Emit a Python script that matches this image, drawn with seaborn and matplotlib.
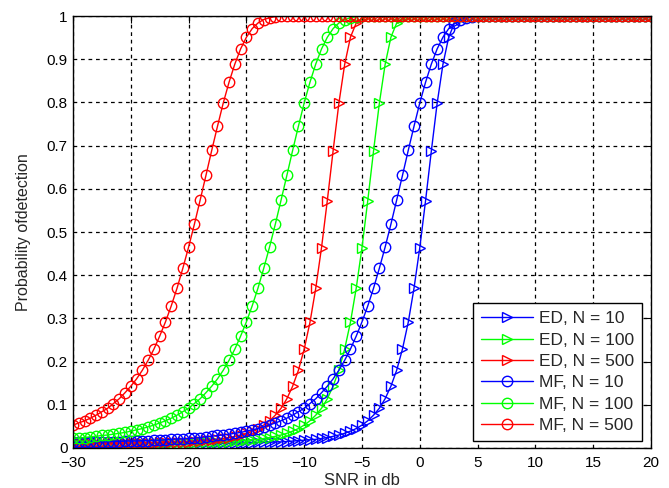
import numpy as np
import pandas as pd
import matplotlib
matplotlib.use('Agg')
import matplotlib.pyplot as plt
import seaborn as sns

# SNR grid in dB (-30 to 20, 0.5 dB steps)
snr_db = np.linspace(-30, 20, 101)

# energy detector curves
ed_n10 = [0.010, 0.010, 0.010, 0.010, 0.010, 0.010, 0.010, 0.010, 0.010, 0.010,
          0.010, 0.010, 0.010, 0.010, 0.010, 0.010, 0.010, 0.011, 0.011, 0.011,
          0.011, 0.011, 0.011, 0.011, 0.011, 0.011, 0.011, 0.011, 0.012, 0.012,
          0.012, 0.012, 0.013, 0.013, 0.013, 0.014, 0.014, 0.015, 0.016, 0.017,
          0.018, 0.019, 0.020, 0.022, 0.024, 0.027, 0.030, 0.034, 0.039, 0.045,
          0.053, 0.063, 0.076, 0.092, 0.114, 0.143, 0.180, 0.229, 0.291, 0.370,
          0.464, 0.573, 0.688, 0.798, 0.888, 0.951, 0.984, 0.996, 1.0, 1.0,
          1.0, 1.0, 1.0, 1.0, 1.0, 1.0, 1.0, 1.0, 1.0, 1.0,
          1.0, 1.0, 1.0, 1.0, 1.0, 1.0, 1.0, 1.0, 1.0, 1.0,
          1.0, 1.0, 1.0, 1.0, 1.0, 1.0, 1.0, 1.0, 1.0, 1.0, 1.0]
ed_n100 = [0.010, 0.010, 0.010, 0.010, 0.010, 0.010, 0.010, 0.011, 0.011, 0.011,
           0.011, 0.011, 0.011, 0.011, 0.011, 0.011, 0.011, 0.011, 0.012, 0.012,
           0.012, 0.012, 0.013, 0.013, 0.013, 0.014, 0.014, 0.015, 0.016, 0.017,
           0.018, 0.019, 0.020, 0.022, 0.024, 0.027, 0.030, 0.034, 0.039, 0.045,
           0.053, 0.063, 0.076, 0.092, 0.114, 0.143, 0.180, 0.229, 0.291, 0.370,
           0.464, 0.573, 0.688, 0.798, 0.888, 0.951, 0.984, 0.996, 1.0, 1.0,
           1.0, 1.0, 1.0, 1.0, 1.0, 1.0, 1.0, 1.0, 1.0, 1.0,
           1.0, 1.0, 1.0, 1.0, 1.0, 1.0, 1.0, 1.0, 1.0, 1.0,
           1.0, 1.0, 1.0, 1.0, 1.0, 1.0, 1.0, 1.0, 1.0, 1.0,
           1.0, 1.0, 1.0, 1.0, 1.0, 1.0, 1.0, 1.0, 1.0, 1.0, 1.0]
ed_n500 = [0.011, 0.011, 0.011, 0.011, 0.011, 0.011, 0.011, 0.011, 0.011, 0.011,
           0.011, 0.012, 0.012, 0.012, 0.012, 0.013, 0.013, 0.013, 0.014, 0.014,
           0.015, 0.016, 0.017, 0.018, 0.019, 0.020, 0.022, 0.024, 0.027, 0.030,
           0.034, 0.039, 0.045, 0.053, 0.063, 0.076, 0.092, 0.114, 0.143, 0.180,
           0.229, 0.291, 0.370, 0.464, 0.573, 0.688, 0.798, 0.888, 0.951, 0.984,
           0.996, 1.0, 1.0, 1.0, 1.0, 1.0, 1.0, 1.0, 1.0, 1.0,
           1.0, 1.0, 1.0, 1.0, 1.0, 1.0, 1.0, 1.0, 1.0, 1.0,
           1.0, 1.0, 1.0, 1.0, 1.0, 1.0, 1.0, 1.0, 1.0, 1.0,
           1.0, 1.0, 1.0, 1.0, 1.0, 1.0, 1.0, 1.0, 1.0, 1.0,
           1.0, 1.0, 1.0, 1.0, 1.0, 1.0, 1.0, 1.0, 1.0, 1.0, 1.0]

# matched filter curves
mf_n10 = [0.013, 0.013, 0.013, 0.014, 0.014, 0.014, 0.014, 0.015, 0.015, 0.016,
          0.016, 0.016, 0.017, 0.017, 0.018, 0.018, 0.019, 0.020, 0.021, 0.021,
          0.022, 0.023, 0.024, 0.026, 0.027, 0.029, 0.030, 0.032, 0.034, 0.036,
          0.039, 0.042, 0.045, 0.049, 0.053, 0.058, 0.063, 0.069, 0.076, 0.084,
          0.092, 0.103, 0.114, 0.128, 0.143, 0.160, 0.180, 0.203, 0.229, 0.259,
          0.292, 0.329, 0.370, 0.416, 0.465, 0.518, 0.574, 0.631, 0.689, 0.745,
          0.799, 0.847, 0.889, 0.924, 0.951, 0.971, 0.984, 0.992, 0.996, 0.999,
          1.0, 1.0, 1.0, 1.0, 1.0, 1.0, 1.0, 1.0, 1.0, 1.0,
          1.0, 1.0, 1.0, 1.0, 1.0, 1.0, 1.0, 1.0, 1.0, 1.0,
          1.0, 1.0, 1.0, 1.0, 1.0, 1.0, 1.0, 1.0, 1.0, 1.0, 1.0]
mf_n100 = [0.022, 0.023, 0.024, 0.026, 0.027, 0.029, 0.030, 0.032, 0.034, 0.036,
           0.039, 0.042, 0.045, 0.049, 0.053, 0.058, 0.063, 0.069, 0.076, 0.084,
           0.092, 0.103, 0.114, 0.128, 0.143, 0.160, 0.180, 0.203, 0.229, 0.259,
           0.292, 0.329, 0.370, 0.416, 0.465, 0.518, 0.574, 0.631, 0.689, 0.745,
           0.799, 0.847, 0.889, 0.924, 0.951, 0.971, 0.984, 0.992, 0.996, 0.999,
           1.0, 1.0, 1.0, 1.0, 1.0, 1.0, 1.0, 1.0, 1.0, 1.0,
           1.0, 1.0, 1.0, 1.0, 1.0, 1.0, 1.0, 1.0, 1.0, 1.0,
           1.0, 1.0, 1.0, 1.0, 1.0, 1.0, 1.0, 1.0, 1.0, 1.0,
           1.0, 1.0, 1.0, 1.0, 1.0, 1.0, 1.0, 1.0, 1.0, 1.0,
           1.0, 1.0, 1.0, 1.0, 1.0, 1.0, 1.0, 1.0, 1.0, 1.0, 1.0]
mf_n500 = [0.053, 0.058, 0.063, 0.069, 0.076, 0.084, 0.092, 0.103, 0.114, 0.128,
           0.143, 0.160, 0.180, 0.203, 0.229, 0.259, 0.292, 0.329, 0.370, 0.416,
           0.465, 0.518, 0.574, 0.631, 0.689, 0.745, 0.799, 0.847, 0.889, 0.924,
           0.951, 0.971, 0.984, 0.992, 0.996, 0.999, 1.0, 1.0, 1.0, 1.0,
           1.0, 1.0, 1.0, 1.0, 1.0, 1.0, 1.0, 1.0, 1.0, 1.0,
           1.0, 1.0, 1.0, 1.0, 1.0, 1.0, 1.0, 1.0, 1.0, 1.0,
           1.0, 1.0, 1.0, 1.0, 1.0, 1.0, 1.0, 1.0, 1.0, 1.0,
           1.0, 1.0, 1.0, 1.0, 1.0, 1.0, 1.0, 1.0, 1.0, 1.0,
           1.0, 1.0, 1.0, 1.0, 1.0, 1.0, 1.0, 1.0, 1.0, 1.0,
           1.0, 1.0, 1.0, 1.0, 1.0, 1.0, 1.0, 1.0, 1.0, 1.0, 1.0]

series = [
    ('ED, N = 10', ed_n10, 'blue', '>'),
    ('ED, N = 100', ed_n100, 'lime', '>'),
    ('ED, N = 500', ed_n500, 'red', '>'),
    ('MF, N = 10', mf_n10, 'blue', 'o'),
    ('MF, N = 100', mf_n100, 'lime', 'o'),
    ('MF, N = 500', mf_n500, 'red', 'o'),
]

x_ticks = [-30, -25, -20, -15, -10, -5, 0, 5, 10, 15, 20]
y_ticks = [0, 0.1, 0.2, 0.3, 0.4, 0.5, 0.6, 0.7, 0.8, 0.9, 1]
y_tick_labels = ['0', '0.1', '0.2', '0.3', '0.4', '0.5', '0.6', '0.7', '0.8', '0.9', '1']

sns.set_style('white')
plt.rcParams['font.family'] = ['Liberation Sans', 'DejaVu Sans']

fig = plt.figure(figsize=(6.69, 4.88), dpi=100)
ax = fig.add_axes([0.1091, 0.082, 0.864, 0.885])

for label, vals, col, mk in series:
    df = pd.DataFrame({'snr': snr_db, 'pd': vals})
    sns.lineplot(data=df, x='snr', y='pd', ax=ax, color=col, marker=mk,
                 markersize=7.5, markerfacecolor='none', markeredgecolor=col,
                 markeredgewidth=1.0, linewidth=1.0, label=label,
                 estimator=None, sort=False)

ax.set_xlim(-30, 20)
ax.set_ylim(0, 1)
ax.set_xticks(x_ticks)
ax.set_yticks(y_ticks)
ax.set_yticklabels(y_tick_labels)
ax.grid(True, color='black', linestyle=(0, (3, 3)), linewidth=0.9)
ax.tick_params(direction='in', length=5, width=0.8, top=True, right=True,
               labelsize=11, colors='black')
ax.tick_params(axis='x', pad=6)
ax.tick_params(axis='y', pad=4)
for sp in ax.spines.values():
    sp.set_color('black')
    sp.set_linewidth(1.0)

ax.set_xlabel('SNR in db', fontsize=12, labelpad=2)
ax.set_ylabel('Probability ofdetection', fontsize=11.5, labelpad=11)

leg = ax.legend(loc='lower right', bbox_to_anchor=(0.985, 0.016), borderaxespad=0,
                fontsize=12.5, frameon=True, fancybox=False, framealpha=1,
                edgecolor='black', handlelength=3.0, numpoints=1,
                labelspacing=0.36, borderpad=0.45, handletextpad=0.35)
leg.get_frame().set_linewidth(1.0)

fig.savefig('out.png', dpi=100)
